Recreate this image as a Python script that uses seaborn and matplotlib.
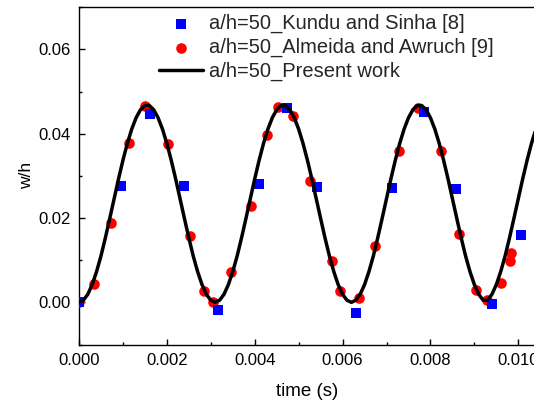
import matplotlib
matplotlib.use("Agg")
import matplotlib.pyplot as plt
import seaborn as sns
import pandas as pd
from matplotlib.ticker import MultipleLocator, FormatStrFormatter

# ---------------- data ----------------
kundu_t = [0.0000, 0.00096, 0.00162, 0.00240, 0.00316, 0.00410, 0.00473,
           0.00541, 0.00630, 0.00712, 0.00786, 0.00858, 0.00940, 0.01006]
kundu_w = [0.0000, 0.0275, 0.0447, 0.0275, -0.0017, 0.0281, 0.0462,
           0.0273, -0.0025, 0.0271, 0.0451, 0.0270, -0.0005, 0.0160]

almeida_t = [0.0000, 0.00035, 0.00073, 0.00114, 0.00151, 0.00203, 0.00253,
             0.00285, 0.00306, 0.00346, 0.00392, 0.00427, 0.00452, 0.00487,
             0.00526, 0.00575, 0.00594, 0.00637, 0.00674, 0.00728, 0.00771,
             0.00823, 0.00864, 0.00904, 0.00928, 0.00961, 0.00981, 0.00983]
almeida_w = [0.0000, 0.0044, 0.0188, 0.0378, 0.0465, 0.0376, 0.0158,
             0.0026, 0.0000, 0.0071, 0.0229, 0.0396, 0.0463, 0.0441,
             0.0287, 0.0099, 0.0026, 0.0010, 0.0134, 0.0358, 0.0461,
             0.0358, 0.0162, 0.0030, 0.0005, 0.0046, 0.0097, 0.0117]

present_t = [
    0.0000, 0.0001, 0.0002, 0.0003, 0.0004, 0.0005, 0.0006, 0.0007, 0.0008, 0.0009,
    0.0010, 0.0011, 0.0012, 0.0013, 0.0014, 0.0015, 0.0016, 0.0017, 0.0018, 0.0019,
    0.0020, 0.0021, 0.0022, 0.0023, 0.0024, 0.0025, 0.0026, 0.0027, 0.0028, 0.0029,
    0.0030, 0.0031, 0.0032, 0.0033, 0.0034, 0.0035, 0.0036, 0.0037, 0.0038, 0.0039,
    0.0040, 0.0041, 0.0042, 0.0043, 0.0044, 0.0045, 0.0046, 0.0047, 0.0048, 0.0049,
    0.0050, 0.0051, 0.0052, 0.0053, 0.0054, 0.0055, 0.0056, 0.0057, 0.0058, 0.0059,
    0.0060, 0.0061, 0.0062, 0.0063, 0.0064, 0.0065, 0.0066, 0.0067, 0.0068, 0.0069,
    0.0070, 0.0071, 0.0072, 0.0073, 0.0074, 0.0075, 0.0076, 0.0077, 0.0078, 0.0079,
    0.0080, 0.0081, 0.0082, 0.0083, 0.0084, 0.0085, 0.0086, 0.0087, 0.0088, 0.0089,
    0.0090, 0.0091, 0.0092, 0.0093, 0.0094, 0.0095, 0.0096, 0.0097, 0.0098, 0.0099,
    0.0100, 0.0101, 0.0102, 0.0103, 0.0104, 0.0105]
present_w = [
    0.0000, 0.0005, 0.0019, 0.0042, 0.0073, 0.0110, 0.0153, 0.0199, 0.0246, 0.0293,
    0.0337, 0.0377, 0.0411, 0.0438, 0.0457, 0.0467, 0.0467, 0.0457, 0.0438, 0.0411,
    0.0377, 0.0337, 0.0293, 0.0246, 0.0199, 0.0153, 0.0110, 0.0073, 0.0042, 0.0019,
    0.0005,
    0.0000, 0.0005, 0.0019, 0.0042, 0.0073, 0.0110, 0.0153, 0.0199, 0.0246, 0.0293,
    0.0337, 0.0377, 0.0411, 0.0438, 0.0457, 0.0467, 0.0467, 0.0457, 0.0438, 0.0411,
    0.0377, 0.0337, 0.0293, 0.0246, 0.0199, 0.0153, 0.0110, 0.0073, 0.0042, 0.0019,
    0.0005,
    0.0000, 0.0005, 0.0019, 0.0042, 0.0073, 0.0110, 0.0153, 0.0199, 0.0246, 0.0293,
    0.0337, 0.0377, 0.0411, 0.0438, 0.0457, 0.0467, 0.0467, 0.0457, 0.0438, 0.0411,
    0.0377, 0.0337, 0.0293, 0.0246, 0.0199, 0.0153, 0.0110, 0.0073, 0.0042, 0.0019,
    0.0005,
    0.0005, 0.0019, 0.0042, 0.0073, 0.0110, 0.0153, 0.0199, 0.0246, 0.0293, 0.0337,
    0.0377, 0.0411, 0.0438]

labels = ["a/h=50_Kundu and Sinha [8]",
          "a/h=50_Almeida and Awruch [9]",
          "a/h=50_Present work"]

# ---------------- style ----------------
sns.set_theme(style="white")
plt.rcParams["font.family"] = ["Liberation Sans", "DejaVu Sans"]
plt.rcParams["font.size"] = 12

fig = plt.figure(figsize=(5.34, 4.01), dpi=100)
# axes placed to match the reference pixel geometry
ax = fig.add_axes([79 / 534, (401 - 344.5) / 401, (0.0104 * 43930) / 534, 337.2 / 401])

df_k = pd.DataFrame({"t": kundu_t, "w": kundu_w})
df_a = pd.DataFrame({"t": almeida_t, "w": almeida_w})
df_p = pd.DataFrame({"t": present_t, "w": present_w})

sns.scatterplot(data=df_k, x="t", y="w", ax=ax, marker="s", color="#0000ff",
                s=50, linewidth=0, zorder=4, label=labels[0])
sns.scatterplot(data=df_a, x="t", y="w", ax=ax, marker="o", color="#ff0000",
                s=58, linewidth=0, zorder=3, label=labels[1])
sns.lineplot(data=df_p, x="t", y="w", ax=ax, color="black", linewidth=2.5,
             zorder=5, label=labels[2], sort=False)

ax.set_xlim(0, 0.0104)
ax.set_ylim(-0.01, 0.07)
ax.xaxis.set_major_locator(MultipleLocator(0.002))
ax.xaxis.set_minor_locator(MultipleLocator(0.001))
ax.yaxis.set_major_locator(MultipleLocator(0.02))
ax.yaxis.set_minor_locator(MultipleLocator(0.01))
ax.xaxis.set_major_formatter(FormatStrFormatter("%.3f"))
ax.yaxis.set_major_formatter(FormatStrFormatter("%.2f"))

ax.tick_params(which="both", direction="in", color="black", labelcolor="black",
               labelsize=12, top=False, right=False, bottom=True, left=True)
ax.tick_params(which="major", length=4.5, width=1.0, pad=6)
ax.tick_params(which="minor", length=2.5, width=1.0)
for sp in ax.spines.values():
    sp.set_color("black")
    sp.set_linewidth(1.0)

ax.set_xlabel("time (s)", fontsize=13.5, color="black", labelpad=11)
ax.set_ylabel("w/h", fontsize=12.5, color="black", labelpad=3)

handles, labs = ax.get_legend_handles_labels()
order = [labs.index(l) for l in labels]
ax.legend([handles[i] for i in order], [labs[i] for i in order],
          loc="upper left", bbox_to_anchor=(159.3 / 534, (401 - 14) / 401),
          bbox_transform=fig.transFigure, frameon=False, borderpad=0,
          borderaxespad=0, handlelength=2.19, handletextpad=0.3,
          labelspacing=0.23, fontsize=14.5, markerscale=1.0)

fig.savefig("out.png", dpi=100)
